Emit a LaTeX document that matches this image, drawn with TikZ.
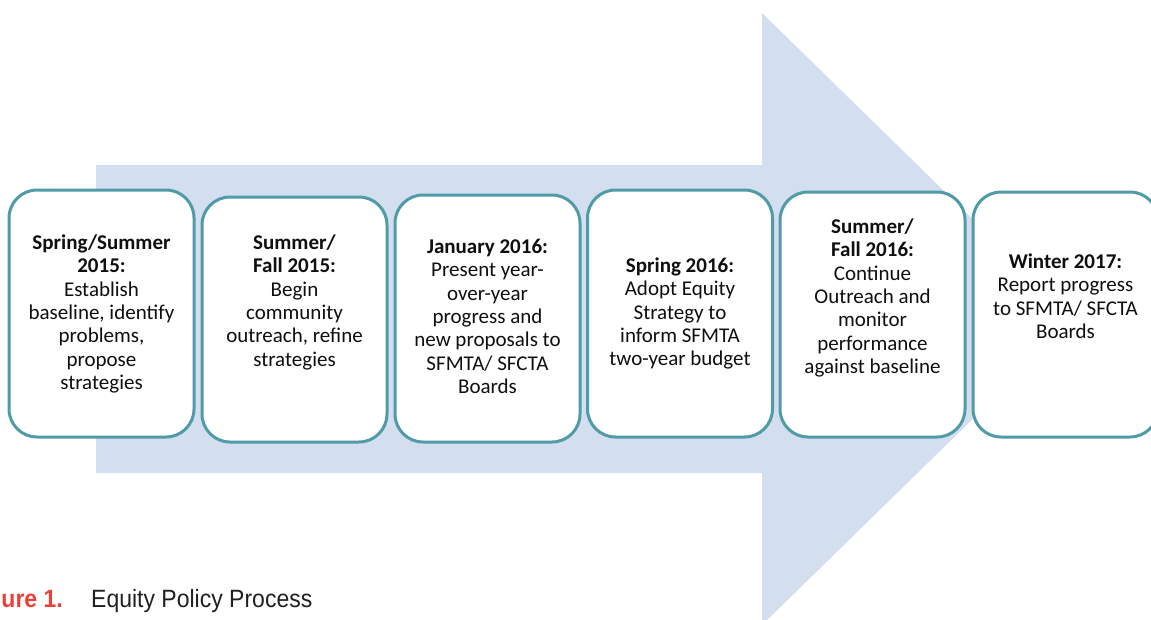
\documentclass[tikz,border=0pt]{standalone}
\usepackage{fontspec}
\setmainfont{Carlito}
\newfontfamily\capfont[FakeStretch=0.92]{Liberation Sans}
\definecolor{arrowfill}{RGB}{211,222,238}
\definecolor{boxline}{RGB}{80,155,168}
\definecolor{txt}{RGB}{15,15,15}
\definecolor{capred}{RGB}{238,64,54}
\definecolor{capgray}{RGB}{35,31,32}
\tikzset{
  stagebox/.style={draw=boxline, line width=3pt, fill=white, rounded corners=28pt,
    minimum width=185pt, inner sep=0pt, rectangle},
  stagetext/.style={anchor=north, align=center, inner sep=0pt, text=txt,
    font=\fontsize{21}{23.4}\selectfont},
}
\newcommand{\fl}{\rule{0pt}{16pt}}
\begin{document}
\begin{tikzpicture}[x=1pt, y=-1pt]
\useasboundingbox (0,0) rectangle (1151,619);
\clip (0,0) rectangle (1151,619);
% big arrow
\fill[arrowfill] (96,165) -- (762,165) -- (762,13) -- (1075,319) -- (762,625) -- (762,473) -- (96,473) -- cycle;
% boxes
\node[stagebox, minimum height=247pt] (b1) at (101.5,313.5) {};
\node[stagebox, minimum height=245pt] (b2) at (294.5,319.5) {};
\node[stagebox, minimum height=247pt] (b3) at (487.5,318.5) {};
\node[stagebox, minimum height=247pt] (b4) at (680,313.5) {};
\node[stagebox, minimum height=245pt] (b5) at (872.5,314.5) {};
\node[stagebox, minimum height=245pt] (b6) at (1065.5,314.5) {};
% texts
\node[stagetext] (t1) at (101.5,233) {\fl\textbf{Spring/Summer}\\\textbf{2015:}\\Establish\\baseline, identify\\problems,\\propose\\strategies};
\node[stagetext] (t2) at (294.5,233) {\fl\textbf{Summer/}\\\textbf{Fall 2015:}\\Begin\\community\\outreach, refine\\strategies};
\node[stagetext] (t3) at (487.5,237) {\fl\textbf{January 2016:}\\Present year-\\over-year\\progress and\\new proposals to\\SFMTA/ SFCTA\\Boards};
\node[stagetext] (t4) at (680,256) {\fl\textbf{Spring 2016:}\\Adopt Equity\\Strategy to\\inform SFMTA\\two-year budget};
\node[stagetext] (t5) at (872.5,217) {\fl\textbf{Summer/}\\\textbf{Fall 2016:}\\Continue\\Outreach and\\monitor\\performance\\against baseline};
\node[stagetext] (t6) at (1065.5,252) {\fl\textbf{Winter 2017:}\\Report progress\\to SFMTA/ SFCTA\\Boards};
% caption
\node[anchor=base east, inner sep=0pt, text=capred, font=\capfont\bfseries\fontsize{25}{30}\selectfont] (capnum) at (63,607) {Figure 1.};
\node[anchor=base west, inner sep=0pt, text=capgray, font=\capfont\fontsize{25}{30}\selectfont] (captxt) at (91,607) {Equity Policy Process};
\end{tikzpicture}
\end{document}
